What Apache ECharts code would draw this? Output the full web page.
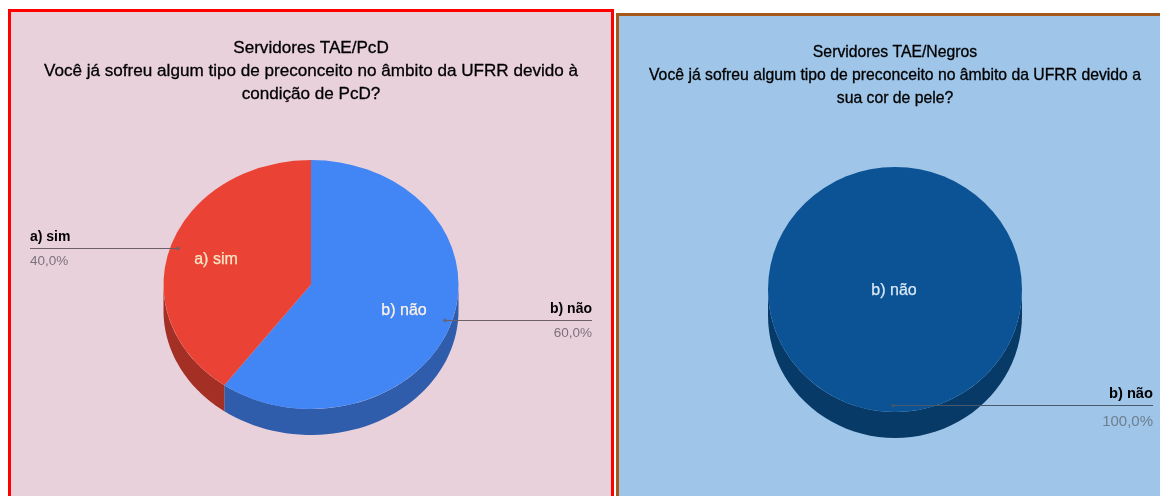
<!DOCTYPE html>
<html>
<head>
<meta charset="utf-8">
<title>Servidores TAE</title>
<script src="https://cdn.jsdelivr.net/npm/echarts@6/dist/echarts.min.js"></script>
<style>
  html, body { margin: 0; padding: 0; background: #fff; }
  #main { width: 1160px; height: 496px; }
</style>
</head>
<body>
<div id="main"></div>
<script>
// data
const pcdCategories = ['b) não', 'a) sim']
const pcdValues = [60, 40]
const pcdPercents = ['60,0%', '40,0%']
const negrosCategories = ['b) não']
const negrosValues = [100]
const negrosPercents = ['100,0%']
const pcdTitle = 'Servidores TAE/PcD\nVocê já sofreu algum tipo de preconceito no âmbito da UFRR devido à\ncondição de PcD?'
const negrosTitle = 'Servidores TAE/Negros\nVocê já sofreu algum tipo de preconceito no âmbito da UFRR devido a\nsua cor de pele?'

const FONT = '"Liberation Sans", Arial, sans-serif'

// flattened pie with a wall below it, echarts has no tilted pie so it is a custom series
const pcdLook = {
    cx: 311, cy: 284.5, rx: 147.5, ry: 124.5, depth: 26,
    colors: ['#4285f4', '#ea4335'],
    walls: ['#2f5dab', '#a32f25'],
    inner: [
        { x: 404, y: 311, color: '#fdf3e6' },
        { x: 216, y: 260, color: '#fbe7c8' }
    ],
    leader: [
        { x1: 445, x2: 592, y: 320.5, align: 'right' },
        { x1: 178, x2: 30, y: 248.5, align: 'left' }
    ],
    lineColor: '#6b6068',
    pctColor: '#7c7279',
    nameSize: 14, pctSize: 13.5, nameDy: -11, pctDy: 13
}
const negrosLook = {
    cx: 895, cy: 289.5, rx: 127, ry: 122.5, depth: 26,
    colors: ['#0b5394'],
    walls: ['#083a68'],
    inner: [{ x: 894, y: 291, color: '#d9e8f5' }],
    leader: [{ x1: 893, x2: 1153, y: 405.5, align: 'right' }],
    lineColor: '#47596a',
    pctColor: '#6d7f90',
    nameSize: 14.7, pctSize: 15, nameDy: -11.5, pctDy: 16.5
}

function wallPoints (look, from, to) {
    // only the front half of the rim shows, angles run clockwise from the right
    let a = Math.max(from, 0)
    let b = Math.min(to, Math.PI)
    if (b <= a) return null
    let top = []
    let bottom = []
    for (let i = 0; i <= 48; i++) {
        let t = a + (b - a) * i / 48
        let px = look.cx + look.rx * Math.cos(t)
        let py = look.cy + look.ry * Math.sin(t)
        top.push([px, py])
        bottom.unshift([px, py + look.depth])
    }
    return top.concat(bottom)
}

function pieRenderer (look, values, categories, percents) {
    let total = values.reduce((s, v) => s + v, 0)
    return function (params, api) {
        let i = params.dataIndex
        let before = 0
        for (let k = 0; k < i; k++) before += values[k]
        let start = -Math.PI / 2 + before / total * Math.PI * 2
        let end = start + api.value(0) / total * Math.PI * 2
        let children = []
        // the rim can cross 0 or 2pi, so check it shifted one turn too
        ;[0, Math.PI * 2].forEach(function (shift) {
            let pts = wallPoints(look, start - shift, end - shift)
            if (pts) {
                children.push({ type: 'polygon', z2: 1, shape: { points: pts }, style: { fill: look.walls[i] } })
            }
        })
        children.push({
            type: 'sector',
            z2: 2,
            x: look.cx,
            y: look.cy,
            scaleY: look.ry / look.rx,
            shape: { cx: 0, cy: 0, r: look.rx, r0: 0, startAngle: start, endAngle: end, clockwise: true },
            style: { fill: look.colors[i] }
        })
        children.push({
            type: 'text',
            z2: 5,
            x: look.inner[i].x,
            y: look.inner[i].y,
            style: {
                text: categories[i],
                fill: look.inner[i].color,
                stroke: look.inner[i].color,
                lineWidth: 0.25,
                font: '16px ' + FONT,
                align: 'center',
                verticalAlign: 'middle'
            }
        })
        let lead = look.leader[i]
        children.push({
            type: 'line',
            z2: 6,
            shape: { x1: lead.x1, y1: lead.y, x2: lead.x2, y2: lead.y },
            style: { stroke: look.lineColor, lineWidth: 1 }
        })
        children.push({
            type: 'circle',
            z2: 6,
            shape: { cx: lead.x1, cy: lead.y, r: 2 },
            style: { fill: look.lineColor, opacity: 0.7 }
        })
        children.push({
            type: 'text',
            z2: 6,
            x: lead.x2,
            y: lead.y + look.nameDy,
            style: { text: categories[i], fill: '#000', font: 'bold ' + look.nameSize + 'px ' + FONT, align: lead.align, verticalAlign: 'middle' }
        })
        children.push({
            type: 'text',
            z2: 6,
            x: lead.x2,
            y: lead.y + look.pctDy,
            style: { text: percents[i], fill: look.pctColor, font: look.pctSize + 'px ' + FONT, align: lead.align, verticalAlign: 'middle' }
        })
        return { type: 'group', children: children }
    }
}

let chart = echarts.init(document.getElementById('main'))
chart.setOption({
    animation: false,
    backgroundColor: '#ffffff',
    graphic: [
        { type: 'rect', z: 0, shape: { x: 9.5, y: 10.5, width: 603, height: 520 }, style: { fill: '#e9d1dc', stroke: '#ff0000', lineWidth: 3 } },
        { type: 'rect', z: 0, shape: { x: 617.5, y: 14.5, width: 580, height: 520 }, style: { fill: '#9fc5e8', stroke: '#a5581c', lineWidth: 3 } }
    ],
    title: [
        {
            text: pcdTitle, left: 306, top: 32, textAlign: 'center',
            textStyle: { fontFamily: FONT, fontSize: 17.1, fontWeight: 'normal', color: '#000', lineHeight: 23, textBorderColor: '#000', textBorderWidth: 0.3 }
        },
        {
            text: negrosTitle, left: 890, top: 36, textAlign: 'center',
            textStyle: { fontFamily: FONT, fontSize: 15.75, fontWeight: 'normal', color: '#000', lineHeight: 23, textBorderColor: '#000', textBorderWidth: 0.3 }
        }
    ],
    series: [
        {
            type: 'custom',
            coordinateSystem: 'none',
            z: 3,
            silent: true,
            renderItem: pieRenderer(pcdLook, pcdValues, pcdCategories, pcdPercents),
            data: pcdValues.map(v => [v])
        },
        {
            type: 'custom',
            coordinateSystem: 'none',
            z: 3,
            silent: true,
            renderItem: pieRenderer(negrosLook, negrosValues, negrosCategories, negrosPercents),
            data: negrosValues.map(v => [v])
        }
    ]
})
</script>
</body>
</html>
